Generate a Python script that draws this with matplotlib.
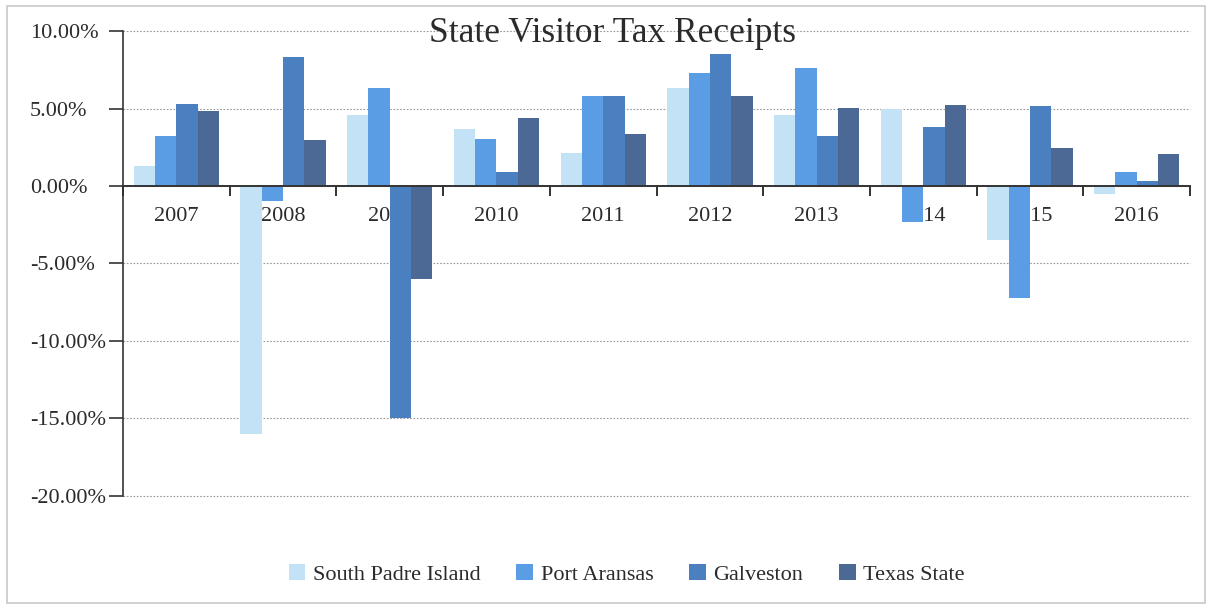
import matplotlib
matplotlib.use("Agg")
import matplotlib.pyplot as plt
from matplotlib.patches import Rectangle
from matplotlib.ticker import FuncFormatter, FixedLocator
import numpy as np

years = ["2007", "2008", "2009", "2010", "2011", "2012", "2013", "2014", "2015", "2016"]
series_names = ["South Padre Island", "Port Aransas", "Galveston", "Texas State"]

# percent change per year
south_padre = [1.3, -16.0, 4.6, 3.7, 2.1, 6.3, 4.6, 5.0, -3.5, -0.5]
port_aransas = [3.2, -0.95, 6.3, 3.05, 5.8, 7.3, 7.6, -2.3, -7.2, 0.9]
galveston = [5.3, 8.3, -15.0, 0.9, 5.8, 8.5, 3.2, 3.8, 5.15, 0.35]
texas_state = [4.85, 2.95, -6.0, 4.4, 3.35, 5.8, 5.05, 5.25, 2.45, 2.05]

colors = ["#c3e2f6", "#5b9de5", "#4a7fc0", "#4b6994"]

plt.rcParams["font.family"] = ["Liberation Serif", "DejaVu Serif"]
text_color = "#2b2b2b"

fig = plt.figure(figsize=(12.1, 6.07), dpi=100)
ax = fig.add_axes([0.1017, 0.1829, 0.8818, 0.766])

x = np.arange(len(years))
width = 0.2
all_series = [south_padre, port_aransas, galveston, texas_state]
for i, (vals, name) in enumerate(zip(all_series, series_names)):
    ax.bar(x + (i - 1.5) * width, vals, width, color=colors[i], label=name,
           zorder=1, linewidth=0)

ax.set_xlim(-0.5, len(years) - 0.5)
ax.set_ylim(-20, 10)
ax.set_yticks([10, 5, 0, -5, -10, -15, -20])
ax.yaxis.set_major_formatter(FuncFormatter(lambda v, p: "%.2f%%" % v))
# value labels are left-aligned in a column left of the axis
ax.tick_params(axis="y", direction="out", length=10, width=1.2, colors="#333333",
               labelsize=16, labelcolor=text_color, pad=57)
for lbl in ax.get_yticklabels():
    lbl.set_horizontalalignment("left")
ax.grid(axis="y", color="#9a9a9a", linestyle=(0, (1.5, 1.5)), linewidth=0.8)
for gl in ax.get_ygridlines():
    gl.set_clip_on(False)
ax.set_axisbelow(True)

# category axis sits on the zero line, ticks between groups
ax.spines["bottom"].set_position(("data", 0))
ax.spines["bottom"].set_linewidth(1.4)
ax.spines["bottom"].set_color("#333333")
ax.spines["left"].set_linewidth(1.2)
ax.spines["left"].set_color("#333333")
ax.spines["top"].set_visible(False)
ax.spines["right"].set_visible(False)
ax.xaxis.set_major_locator(FixedLocator(np.arange(-0.5, len(years), 1.0)))
ax.xaxis.set_minor_locator(FixedLocator(x))
ax.set_xticklabels([], minor=False)
ax.set_xticklabels(years, minor=True)
ax.tick_params(axis="x", which="major", direction="out", length=7, width=1.4,
               colors="#333333")
ax.tick_params(axis="x", which="minor", length=0, labelsize=16,
               labelcolor=text_color, pad=15)

fig.text(0.506, 0.945, "State Visitor Tax Receipts", ha="center", va="center",
         fontsize=25.5, color=text_color)

leg = fig.legend(loc="center", bbox_to_anchor=(0.518, 0.054), ncol=4,
                 frameon=False, fontsize=16, handlelength=0.75, handleheight=0.75,
                 handletextpad=0.35, columnspacing=1.6)
for t in leg.get_texts():
    t.set_color(text_color)

fig.patches.append(Rectangle((0.006, 0.006), 0.99, 0.984, transform=fig.transFigure,
                             fill=False, edgecolor="#c8c8c8", linewidth=1.2))

fig.savefig("out.png", dpi=100)
